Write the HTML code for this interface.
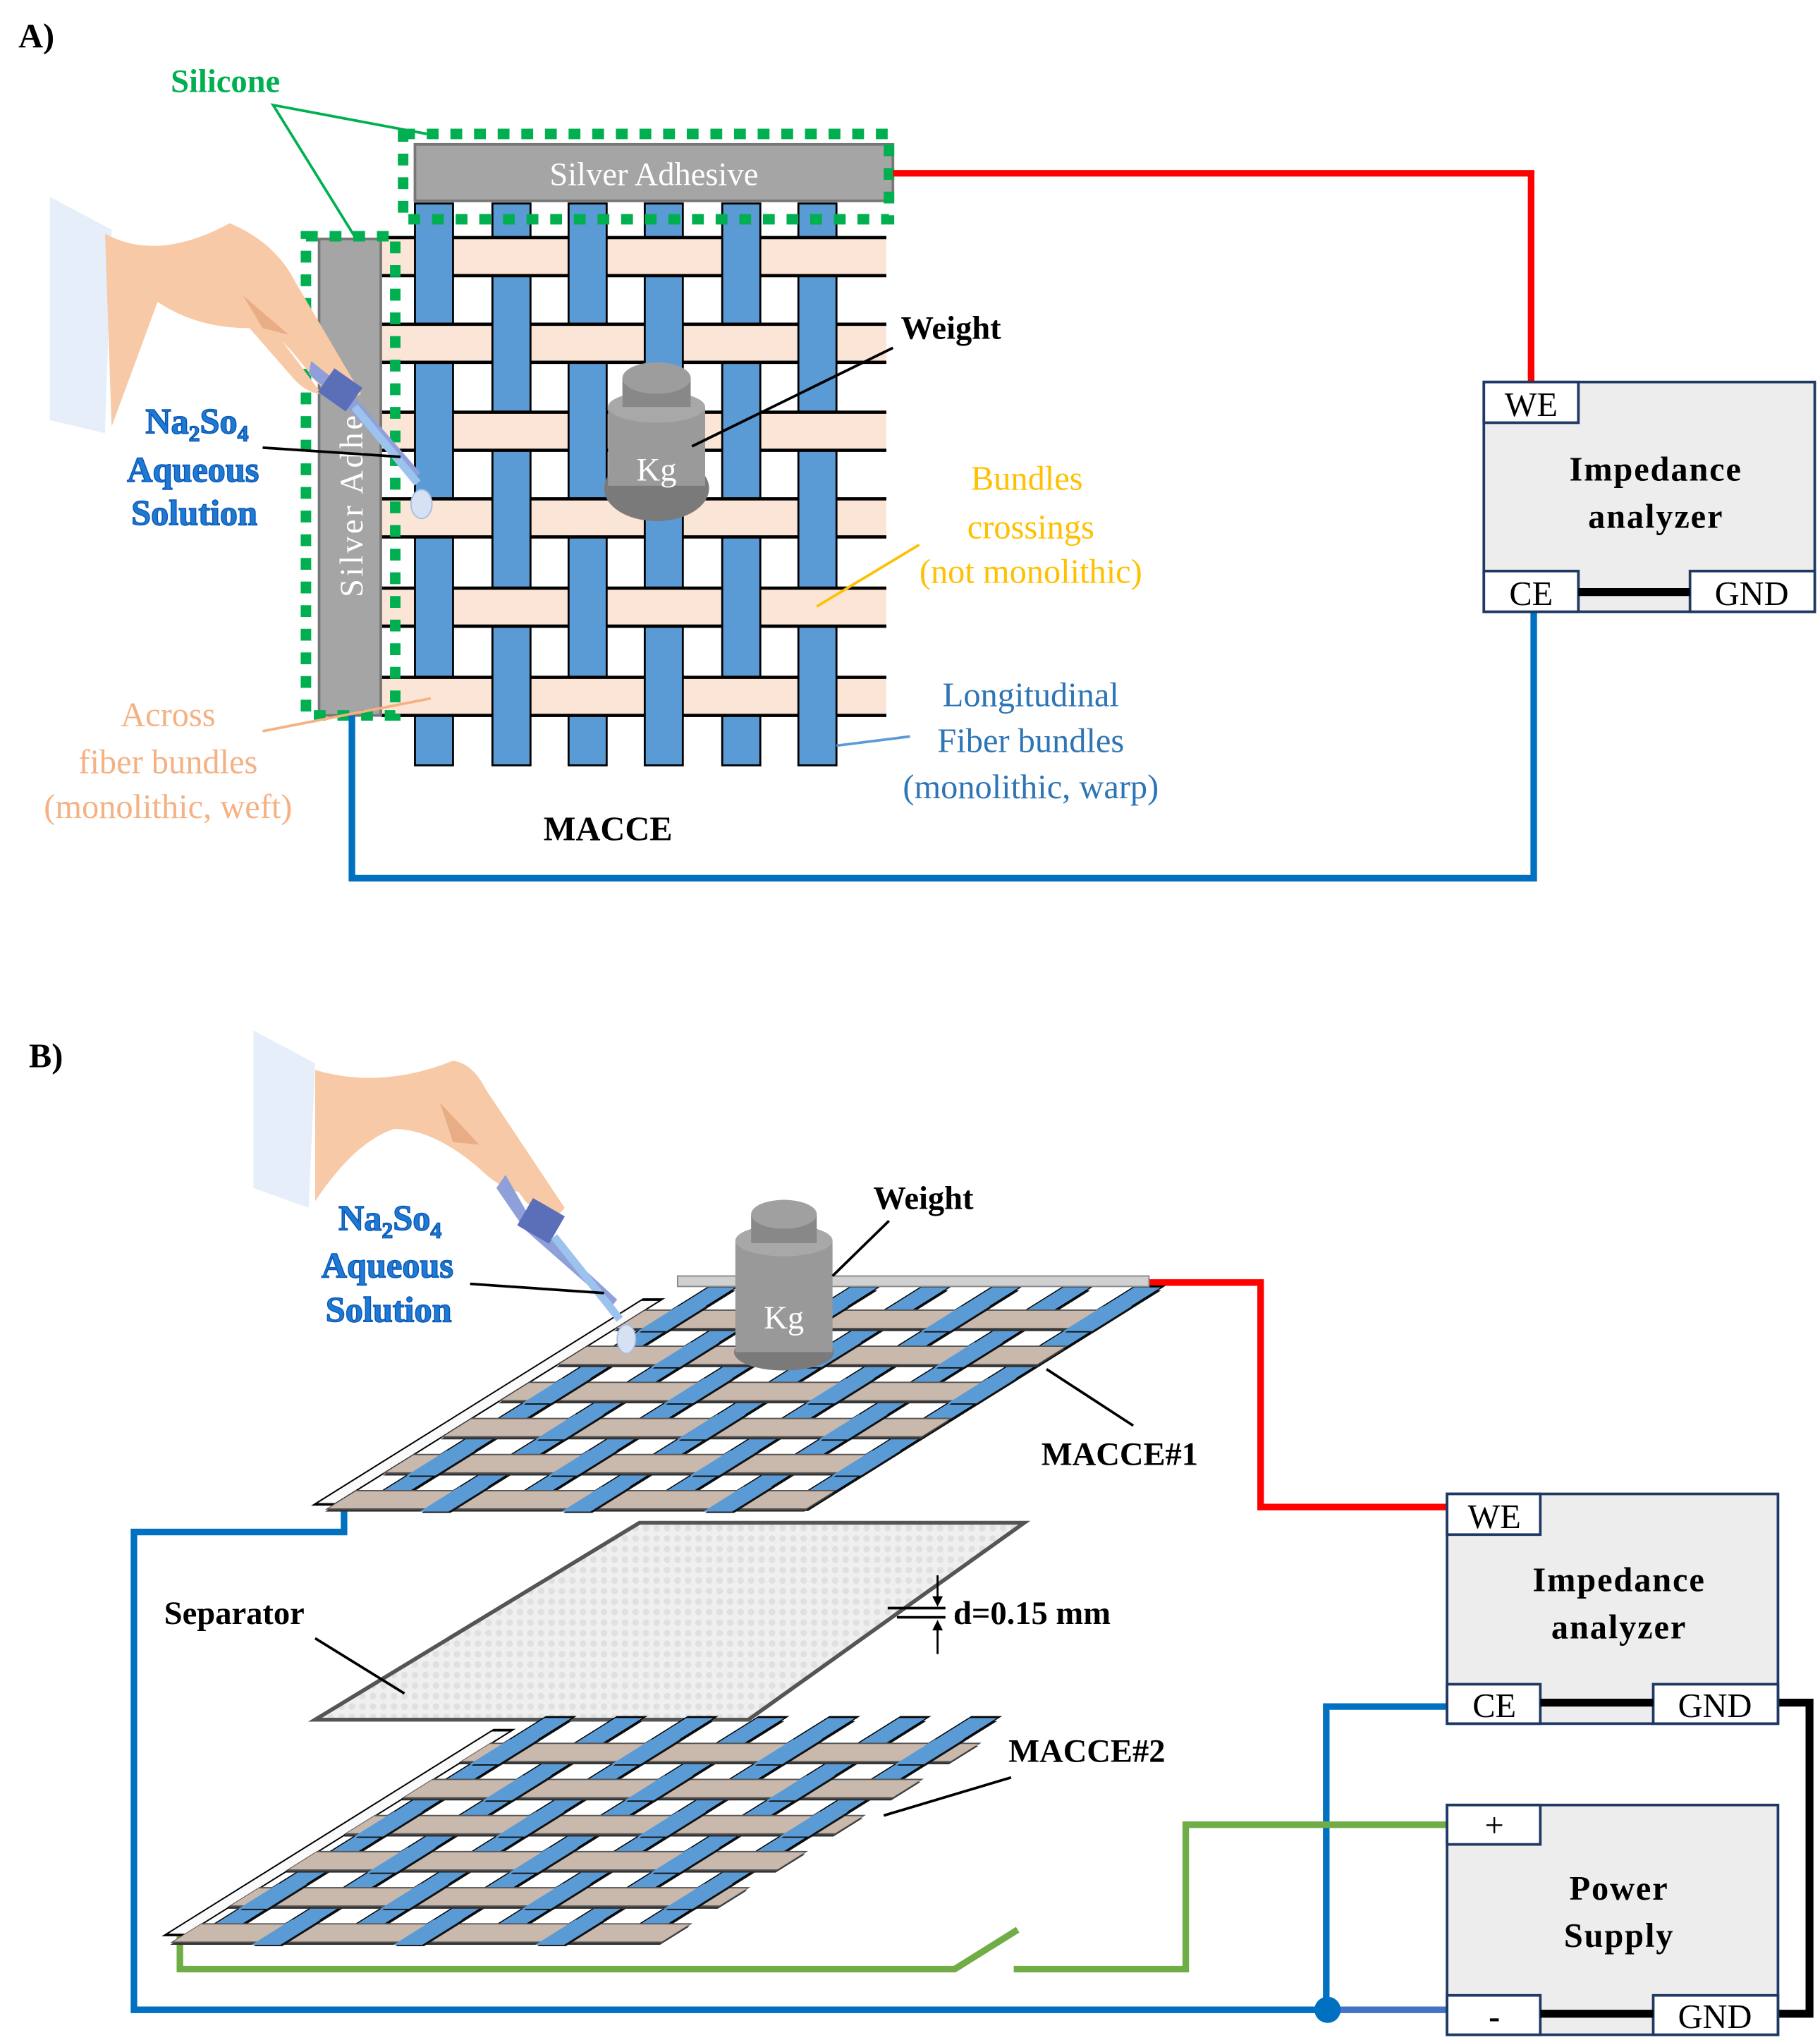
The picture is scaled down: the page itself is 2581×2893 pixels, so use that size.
<!DOCTYPE html>
<html><head><meta charset="utf-8"><style>html,body{margin:0;padding:0;background:#fff}svg{display:block}text{font-family:"Liberation Serif",serif}</style></head>
<body>
<svg id="s" width="2581" height="2893" viewBox="0 0 1386 1554" preserveAspectRatio="none" xmlns="http://www.w3.org/2000/svg">
<rect width="1386" height="1554" fill="#fff"/>
<text x="14" y="36" font-size="26" font-weight="bold">A)</text>
<text x="130" y="70" font-size="25" font-weight="bold" fill="#00b050">Silicone</text>
<polyline points="325,102 208,80 270,180" fill="none" stroke="#00b050" stroke-width="2"/>
<g id="weaveA"></g>
<rect x="316" y="110" width="364" height="43" fill="#a5a5a5" stroke="#777" stroke-width="2"/>
<text x="498" y="141" font-size="25" fill="#fff" text-anchor="middle">Silver Adhesive</text>
<rect x="307" y="102" width="370" height="65" fill="none" stroke="#00b050" stroke-width="8" stroke-dasharray="9,9"/>
<rect x="243" y="182" width="47" height="363" fill="#a5a5a5" stroke="#777" stroke-width="2"/>
<text transform="translate(276,455) rotate(-90)" font-size="25" fill="#fff" letter-spacing="2">Silver Adhe</text>
<rect x="233" y="180" width="68" height="365" fill="none" stroke="#00b050" stroke-width="8" stroke-dasharray="9,9"/>
<path d="M38,150 L85,175 L80,330 L38,320 Z" fill="#e6eefa"/>
<path d="M80,178 Q120,200 175,170 Q210,185 225,215 L275,300 Q260,310 240,290 Q225,270 215,260 L245,300 Q235,300 225,290 L190,250 Q150,250 120,230 L85,325 Z" fill="#f7c9a6"/>
<path d="M185,225 L200,250 L220,255 Z" fill="#e9ad85"/>
<path d="M237,275 L268,300 L320,360 L315,365 L262,308 L235,285 Z" fill="#8f9fd9"/>
<rect x="246" y="286" width="26" height="22" fill="#5b6fb8" transform="rotate(35 259 297)"/>
<line x1="270" y1="310" x2="318" y2="368" stroke="#9cc3ee" stroke-width="6"/>
<ellipse cx="321" cy="384" rx="8" ry="11" fill="#d6e2f4" stroke="#a9bde0"/>
<g font-size="27" font-weight="bold" fill="#1f7ad3" stroke="#0a58b5" stroke-width="0.8" text-anchor="middle">
<text x="150" y="330">Na<tspan font-size="17" dy="6">2</tspan><tspan dy="-6">So</tspan><tspan font-size="17" dy="6">4</tspan></text>
<text x="147" y="367">Aqueous</text>
<text x="148" y="400">Solution</text>
</g>
<line x1="200" y1="341" x2="305" y2="348" stroke="#000" stroke-width="2"/>
<g>
<ellipse cx="500" cy="372" rx="40" ry="25" fill="#7a7a7a"/>
<rect x="463" y="310" width="74" height="60" fill="#9a9a9a"/>
<ellipse cx="500" cy="310" rx="37" ry="12" fill="#a8a8a8"/>
<rect x="474" y="288" width="52" height="22" fill="#888"/>
<ellipse cx="500" cy="288" rx="26" ry="12" fill="#9d9d9d"/>
<text x="500" y="366" font-size="25" fill="#fff" text-anchor="middle">Kg</text>
</g>
<text x="686" y="258" font-size="25" font-weight="bold">Weight</text>
<line x1="680" y1="265" x2="527" y2="340" stroke="#000" stroke-width="2"/>
<g font-size="26" fill="#ffc000" text-anchor="middle">
<text x="782" y="373">Bundles</text><text x="785" y="410">crossings</text><text x="785" y="444">(not monolithic)</text>
</g>
<line x1="700" y1="415" x2="622" y2="462" stroke="#ffc000" stroke-width="2"/>
<g font-size="26" fill="#2e75b6" text-anchor="middle">
<text x="785" y="538">Longitudinal</text><text x="785" y="573">Fiber bundles</text><text x="785" y="608">(monolithic, warp)</text>
</g>
<line x1="693" y1="561" x2="637" y2="568" stroke="#5b9bd5" stroke-width="2"/>
<g font-size="26" fill="#f4b183" text-anchor="middle">
<text x="128" y="553">Across</text><text x="128" y="589">fiber bundles</text><text x="128" y="623">(monolithic, weft)</text>
</g>
<line x1="200" y1="557" x2="328" y2="532" stroke="#f4b183" stroke-width="2"/>
<text x="463" y="640" font-size="26" font-weight="bold" text-anchor="middle">MACCE</text>
<polyline points="680,132 1166,132 1166,292" fill="none" stroke="#ff0000" stroke-width="5"/>
<polyline points="268,545 268,669 1168,669 1168,466" fill="none" stroke="#0070c0" stroke-width="5"/>
<rect x="1130" y="291" width="252" height="175" fill="#ededed" stroke="#1f3864" stroke-width="2"/>
<rect x="1130" y="291" width="72" height="31" fill="#fff" stroke="#1f3864" stroke-width="2"/>
<text x="1166" y="317" font-size="26" text-anchor="middle">WE</text>
<text x="1261" y="366" font-size="26" font-weight="bold" text-anchor="middle" letter-spacing="1">Impedance</text>
<text x="1261" y="402" font-size="26" font-weight="bold" text-anchor="middle" letter-spacing="1">analyzer</text>
<rect x="1130" y="435" width="72" height="31" fill="#fff" stroke="#1f3864" stroke-width="2"/>
<text x="1166" y="461" font-size="26" text-anchor="middle">CE</text>
<rect x="1287" y="435" width="95" height="31" fill="#fff" stroke="#1f3864" stroke-width="2"/>
<text x="1334" y="461" font-size="26" text-anchor="middle">GND</text>
<line x1="1202" y1="451" x2="1287" y2="451" stroke="#000" stroke-width="6"/>

<text x="22" y="813" font-size="26" font-weight="bold">B)</text>
<polyline points="875,977 960,977 960,1148 1102,1148" fill="none" stroke="#ff0000" stroke-width="5"/>
<polyline points="262,1145 262,1167 102,1167 102,1531 1010,1531" fill="none" stroke="#0070c0" stroke-width="5"/>
<line x1="1010" y1="1531" x2="1102" y2="1531" stroke="#4472c4" stroke-width="5"/>
<polyline points="1102,1300 1010,1300 1010,1531" fill="none" stroke="#0070c0" stroke-width="5"/>
<circle cx="1011" cy="1531" r="10" fill="#0070c0"/>
<polyline points="137,1475 137,1500 727,1500 775,1470" fill="none" stroke="#70ad47" stroke-width="5"/>
<polyline points="772,1500 903,1500 903,1390 1102,1390" fill="none" stroke="#70ad47" stroke-width="5"/>
<polyline points="1354,1297 1378,1297 1378,1534 1354,1534" fill="none" stroke="#000" stroke-width="6"/>
<g id="weaveB1"></g>
<defs><pattern id="dots" width="8" height="8" patternUnits="userSpaceOnUse"><rect width="8" height="8" fill="#efefef"/><circle cx="4" cy="4" r="2.5" fill="#e0e0e0"/></pattern></defs>
<polygon points="487,1160 780,1160 570,1310 240,1310" fill="url(#dots)" stroke="#555" stroke-width="3"/>
<text x="125" y="1237" font-size="25" font-weight="bold">Separator</text>
<line x1="240" y1="1248" x2="308" y2="1290" stroke="#000" stroke-width="2"/>
<line x1="676" y1="1225" x2="720" y2="1225" stroke="#000" stroke-width="2"/>
<line x1="683" y1="1232" x2="720" y2="1232" stroke="#000" stroke-width="2"/>
<line x1="714" y1="1200" x2="714" y2="1222" stroke="#000" stroke-width="1.5"/>
<polygon points="710,1216 718,1216 714,1224" fill="#000"/>
<line x1="714" y1="1236" x2="714" y2="1260" stroke="#000" stroke-width="1.5"/>
<polygon points="710,1242 718,1242 714,1234" fill="#000"/>
<text x="726" y="1237" font-size="25" font-weight="bold">d=0.15 mm</text>
<g id="weaveB2"></g>
<text x="768" y="1342" font-size="25" font-weight="bold">MACCE#2</text>
<line x1="770" y1="1354" x2="673" y2="1383" stroke="#000" stroke-width="2"/>
<text x="793" y="1116" font-size="25" font-weight="bold">MACCE#1</text>
<line x1="863" y1="1086" x2="797" y2="1043" stroke="#000" stroke-width="2"/>
<rect x="516" y="972" width="359" height="8" fill="#d0d0d0" stroke="#888" stroke-width="1"/>
<path d="M193,785 L240,810 L235,920 L193,905 Z" fill="#e6eefa"/>
<path d="M240,815 Q290,830 345,808 Q360,810 370,830 L430,920 Q420,935 400,915 L395,908 Q380,905 365,890 Q330,860 300,860 Q270,870 240,915 Z" fill="#f7c9a6"/>
<path d="M335,840 L345,870 L365,872 Z" fill="#e9ad85"/>
<path d="M385,895 L405,930 L470,990 L466,995 L400,937 L378,905 Z" fill="#8f9fd9"/>
<rect x="398" y="918" width="28" height="24" fill="#5b6fb8" transform="rotate(30 412 930)"/>
<line x1="422" y1="942" x2="472" y2="1005" stroke="#9cc3ee" stroke-width="6"/>
<ellipse cx="477" cy="1020" rx="7" ry="11" fill="#d6e2f4" stroke="#a9bde0"/>
<g font-size="27" font-weight="bold" fill="#1f7ad3" stroke="#0a58b5" stroke-width="0.8" text-anchor="middle">
<text x="297" y="937">Na<tspan font-size="17" dy="6">2</tspan><tspan dy="-6">So</tspan><tspan font-size="17" dy="6">4</tspan></text>
<text x="295" y="973">Aqueous</text>
<text x="296" y="1007">Solution</text>
</g>
<line x1="358" y1="978" x2="460" y2="985" stroke="#000" stroke-width="2"/>
<g>
<ellipse cx="597" cy="1030" rx="38" ry="14" fill="#7a7a7a"/>
<rect x="560" y="945" width="74" height="85" fill="#999"/>
<ellipse cx="597" cy="945" rx="37" ry="12" fill="#a8a8a8"/>
<rect x="572" y="925" width="50" height="22" fill="#888"/>
<ellipse cx="597" cy="925" rx="25" ry="11" fill="#a0a0a0"/>
<text x="597" y="1012" font-size="25" fill="#fff" text-anchor="middle">Kg</text>
</g>
<text x="665" y="921" font-size="25" font-weight="bold">Weight</text>
<line x1="677" y1="930" x2="634" y2="972" stroke="#000" stroke-width="2"/>
<rect x="1102" y="1138" width="252" height="175" fill="#ededed" stroke="#1f3864" stroke-width="2"/>
<rect x="1102" y="1138" width="71" height="31" fill="#fff" stroke="#1f3864" stroke-width="2"/>
<text x="1138" y="1164" font-size="26" text-anchor="middle">WE</text>
<text x="1233" y="1212" font-size="26" font-weight="bold" text-anchor="middle" letter-spacing="1">Impedance</text>
<text x="1233" y="1248" font-size="26" font-weight="bold" text-anchor="middle" letter-spacing="1">analyzer</text>
<rect x="1102" y="1283" width="71" height="30" fill="#fff" stroke="#1f3864" stroke-width="2"/>
<text x="1138" y="1308" font-size="26" text-anchor="middle">CE</text>
<rect x="1259" y="1283" width="95" height="30" fill="#fff" stroke="#1f3864" stroke-width="2"/>
<text x="1306" y="1308" font-size="26" text-anchor="middle">GND</text>
<line x1="1173" y1="1297" x2="1259" y2="1297" stroke="#000" stroke-width="6"/>
<rect x="1102" y="1375" width="252" height="175" fill="#ededed" stroke="#1f3864" stroke-width="2"/>
<rect x="1102" y="1375" width="71" height="30" fill="#fff" stroke="#1f3864" stroke-width="2"/>
<text x="1138" y="1399" font-size="26" text-anchor="middle">+</text>
<text x="1233" y="1447" font-size="26" font-weight="bold" text-anchor="middle" letter-spacing="1">Power</text>
<text x="1233" y="1483" font-size="26" font-weight="bold" text-anchor="middle" letter-spacing="1">Supply</text>
<rect x="1102" y="1520" width="71" height="30" fill="#fff" stroke="#1f3864" stroke-width="2"/>
<text x="1138" y="1545" font-size="26" font-weight="bold" text-anchor="middle">-</text>
<rect x="1259" y="1520" width="95" height="30" fill="#fff" stroke="#1f3864" stroke-width="2"/>
<text x="1306" y="1545" font-size="26" text-anchor="middle">GND</text>
<line x1="1173" y1="1534" x2="1259" y2="1534" stroke="#000" stroke-width="6"/>
</svg>
<script>
var NS="http://www.w3.org/2000/svg";
function R(g,x,y,w,h,f,s,sw){var r=document.createElementNS(NS,"rect");r.setAttribute("x",x);r.setAttribute("y",y);r.setAttribute("width",w);r.setAttribute("height",h);r.setAttribute("fill",f);if(s){r.setAttribute("stroke",s);r.setAttribute("stroke-width",sw||2);}g.appendChild(r);}
function L(g,x1,y1,x2,y2){var l=document.createElementNS(NS,"line");l.setAttribute("x1",x1);l.setAttribute("x2",x2);l.setAttribute("y1",y1);l.setAttribute("y2",y2);l.setAttribute("stroke","#000");l.setAttribute("stroke-width",2.5);g.appendChild(l);}
(function(){var g=document.getElementById("weaveA");
var wx=[316,375,433,491,550,608],ww=29,wy=[181,247,314,380,448,516],wh=29;
for(var i=0;i<6;i++){R(g,290,wy[i],385,wh,"#fbe5d6");}
for(var k=0;k<6;k++){R(g,wx[k],155,ww,428,"#5b9bd5","#000",1.5);}
for(var i=0;i<6;i++){for(var k=0;k<6;k++){if((i+k)%2==1){R(g,wx[k]-1,wy[i]+1,ww+2,wh-2,"#fbe5d6");}}}
for(var i=0;i<6;i++){for(var k=-1;k<6;k++){var x1=k<0?290:wx[k]+ww,x2=k<5?wx[k+1]:675;L(g,x1,wy[i],x2,wy[i]);L(g,x1,wy[i]+wh,x2,wy[i]+wh);}
 for(var k=0;k<6;k++){if((i+k)%2==1){L(g,wx[k],wy[i],wx[k]+ww,wy[i]);L(g,wx[k],wy[i]+wh,wx[k]+ww,wy[i]+wh);}}}
})();
function weaveB(id,y0,edgeX,wL,wR,warp0,yTop,yBot){
 var g=document.getElementById(id);g.setAttribute("transform","matrix(1 0 -1.6 1 "+(1.6*y0)+" 0)");
 R(g,edgeX,yTop+10,15,yBot-yTop-12,"#fafafa","#000",2);
 var rows=[],wx=[];for(var i=0;i<6;i++)rows.push(y0+18+i*27.5);
 for(var k=0;k<7;k++)wx.push(warp0+k*54);
 for(var k=0;k<7;k++){R(g,wx[k]+3,yTop+3,22,yBot-yTop,"#111");R(g,wx[k],yTop,22,yBot-yTop,"#5b9bd5","#000",1.5);}
 for(var i=0;i<6;i++){R(g,wL+2,rows[i]+2,wR-wL,14,"#333");R(g,wL,rows[i],wR-wL,14,"#c9b8ac","#555",1);}
 for(var i=0;i<6;i++)for(var k=0;k<7;k++){if((i+k)%2==0){R(g,wx[k]+3,rows[i]-1,22,18,"#111");R(g,wx[k],rows[i]-3,22,19,"#5b9bd5");}}
}
weaveB("weaveB1",980,505,520,885,540,980,1148);
weaveB("weaveB2",1310,388,402,775,412,1308,1476);
</script>
</body></html>
